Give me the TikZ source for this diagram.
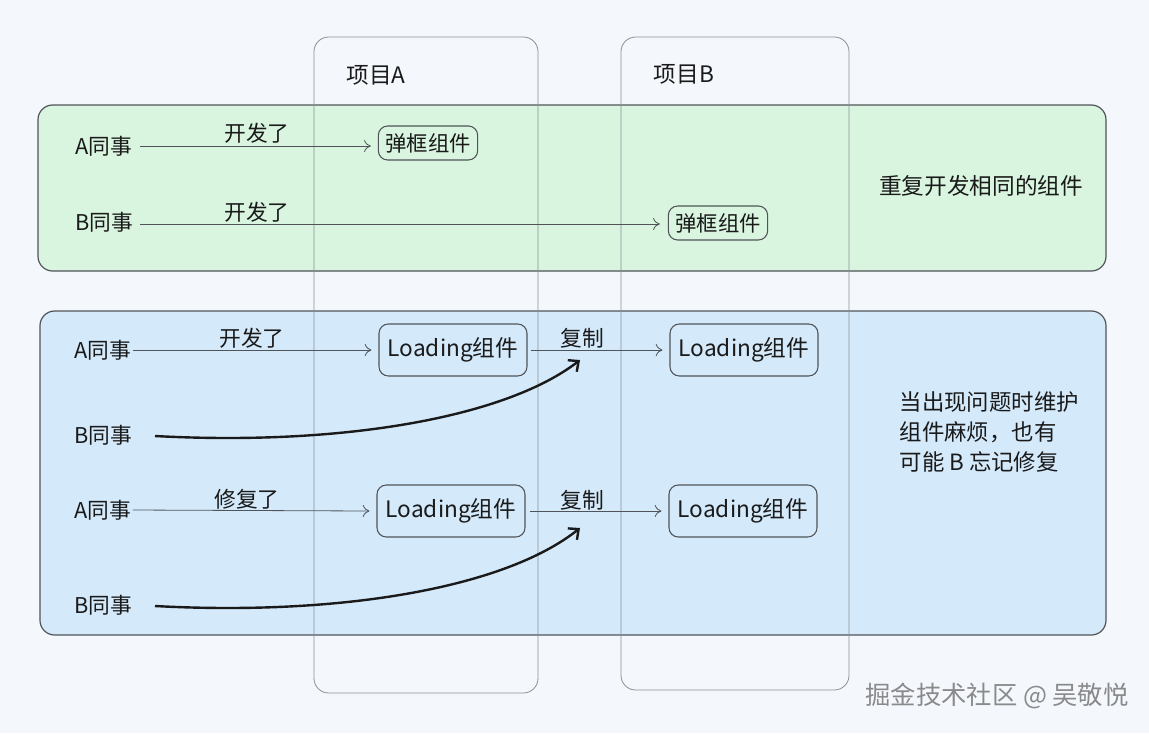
\documentclass[tikz,border=0pt]{standalone}
\usepackage{fontspec}
\setmainfont{Noto Sans CJK SC}
\usetikzlibrary{arrows.meta,calc}
\definecolor{bg}{HTML}{F4F8FD}
\definecolor{greenband}{HTML}{D9F4DF}
\definecolor{blueband}{HTML}{D4E9FA}
\definecolor{ink}{HTML}{1A1A1A}
\definecolor{edge}{HTML}{505459}
\definecolor{colgray}{HTML}{8A9096}
\definecolor{wm}{HTML}{8A8A8A}
\tikzset{
  band/.style={draw=edge, line width=0.9pt, rounded corners=11pt},
  column/.style={draw=colgray, line width=0.6pt, rounded corners=11pt},
  lbl/.style={text=ink, font=\fontsize{16.3}{18}\selectfont, inner sep=1pt},
  comp/.style={draw=edge, line width=0.8pt, rounded corners=7pt, text=ink, font=\fontsize{17}{19}\selectfont, inner sep=0pt},
  smallcomp/.style={comp, font=\fontsize{16}{18}\selectfont, minimum width=74.5pt, minimum height=25.5pt},
  thinarrow/.style={draw=edge, line width=0.6pt, -{To[length=5pt,width=9pt]}},
  thickarrow/.style={draw=ink, line width=1.8pt, -{Straight Barb[length=6pt,width=11pt]}},
}
\begin{document}
\begin{tikzpicture}[x=0.75pt,y=-0.75pt]
\path[fill=bg] (0,0) rectangle (1149,733);
\useasboundingbox (0,0) rectangle (1149,733);
% bands
\path[band, fill=greenband] (38,105) rectangle (1106,271);
\path[band, fill=blueband] (40,311) rectangle (1106,635);
% columns
\path[column] (314,37) rectangle (538,693);
\path[column] (621,37) rectangle (849,690);
\node[lbl, font=\fontsize{17}{19}\selectfont] (pa) at (376,75) {项目A};
\node[lbl, font=\fontsize{17}{19}\selectfont] (pb) at (684,74) {项目B};
% green rows
\node[lbl] (g1) at (104,146) {A同事};
\node[smallcomp] (gb1) at (428,143) {弹框组件};
\draw[thinarrow] ($(g1.east)+(6,0)$) -- ($(gb1.west)+(-7,3)$);
\node[lbl] (t1) at (257,133) {开发了};
\node[lbl] (g2) at (104,222) {B同事};
\node[smallcomp] (gb2) at (718,223) {弹框组件};
\draw[thinarrow] ($(g2.east)+(6,2)$) -- ($(gb2.west)+(-8,1)$);
\node[lbl] (t2) at (257,212) {开发了};
\node[lbl, font=\fontsize{17}{19}\selectfont] (gnote) at (981,186) {重复开发相同的组件};
% blue rows
\node[lbl] (b1) at (103,350) {A同事};
\node[comp, minimum width=111pt, minimum height=39pt] (l1) at (453,350) {Loading组件};
\node[comp, minimum width=111pt, minimum height=39pt] (l2) at (744,350) {Loading组件};
\draw[thinarrow] (b1.east) -- ($(l1.west)+(-7,0)$);
\node[lbl] (t3) at (252,338) {开发了};
\draw[thinarrow] ($(l1.east)+(3,0)$) -- ($(l2.west)+(-7,0)$);
\node[lbl] (c1) at (582,338) {复制};
\node[lbl] (b2) at (103,435) {B同事};
\coordinate (b2s) at (155,436);
\coordinate (b2e) at (580,360);
\draw[thickarrow] (b2s) .. controls (340,446) and (505,418) .. (b2e);
\node[lbl] (b3) at (103,510) {A同事};
\node[comp, minimum width=111pt, minimum height=39pt] (l3) at (451,511) {Loading组件};
\node[comp, minimum width=111pt, minimum height=39pt] (l4) at (743,511) {Loading组件};
\draw[thinarrow] (b3.east) -- ($(l3.west)+(-7,0)$);
\node[lbl] (t4) at (247,499) {修复了};
\draw[thinarrow] ($(l3.east)+(4,0)$) -- ($(l4.west)+(-7,0)$);
\node[lbl] (c2) at (582,500) {复制};
\node[lbl] (b4) at (103,605) {B同事};
\coordinate (b4s) at (155,606);
\coordinate (b4e) at (580,528);
\draw[thickarrow] (b4s) .. controls (340,616) and (505,588) .. (b4e);
\node[lbl, align=left, anchor=north west, font=\fontsize{16.8}{22.5}\selectfont] (bnote) at (898,390) {当出现问题时维护\\组件麻烦，也有\\可能 B 忘记修复};
% watermark
\node[text=wm, font=\fontsize{19}{21}\selectfont, inner sep=0pt] (wmk) at (997,696) {掘金技术社区 @ 吴敬悦};
\end{tikzpicture}
\end{document}
